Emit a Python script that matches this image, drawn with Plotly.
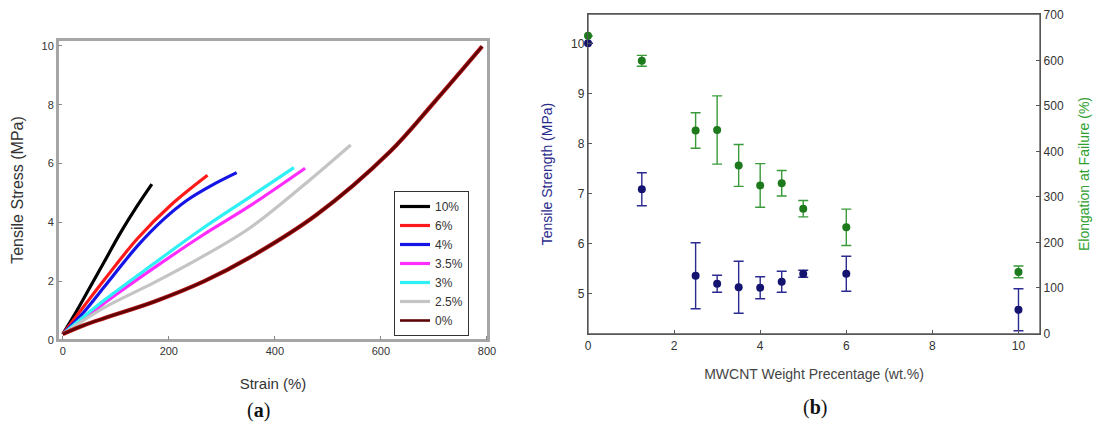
import plotly.graph_objects as go

W, H = 1101, 428

# ---------- panel (a): stress-strain curves ----------
labels = ["10%", "6%", "4%", "3.5%", "3%", "2.5%", "0%"]
colors = ["#000000", "#ff1a1a", "#1414e6", "#ff2dff", "#2ef0f5", "#c4c4c4", "#5e0404"]

strain_10 = [0, 25, 50, 78, 109, 140, 168]
stress_10 = [0.2, 0.95, 1.75, 2.65, 3.65, 4.55, 5.3]
strain_6 = [0, 40, 78, 141, 204, 273]
stress_6 = [0.2, 1.15, 2.04, 3.45, 4.59, 5.6]
strain_4 = [0, 40, 78, 141, 190, 235, 280, 328]
stress_4 = [0.2, 0.95, 1.8, 3.2, 4.1, 4.76, 5.25, 5.69]
strain_35 = [0, 40, 78, 172, 260, 352, 457]
stress_35 = [0.2, 0.72, 1.25, 2.45, 3.52, 4.55, 5.84]
strain_3 = [0, 40, 78, 172, 260, 352, 436]
stress_3 = [0.2, 0.8, 1.35, 2.6, 3.75, 4.85, 5.86]
strain_25 = [0, 78, 172, 260, 352, 450, 543]
stress_25 = [0.2, 1.1, 1.95, 2.8, 3.8, 5.2, 6.63]
strain_0 = [0, 40, 78, 172, 267, 352, 478, 617, 699, 791]
stress_0 = [0.2, 0.5, 0.74, 1.3, 2.0, 2.8, 4.25, 6.4, 8.05, 9.98]

curves = [(strain_10, stress_10), (strain_6, stress_6), (strain_4, stress_4),
          (strain_35, stress_35), (strain_3, stress_3), (strain_25, stress_25),
          (strain_0, stress_0)]

# ---------- panel (b): MWCNT content ----------
wt = [0, 1.25, 2.5, 3, 3.5, 4, 4.5, 5, 6, 10]
tensile_strength = [10.0, 7.08, 5.35, 5.19, 5.12, 5.11, 5.23, 5.39, 5.39, 4.67]
tensile_err = [None, 0.33, 0.66, 0.17, 0.52, 0.22, 0.21, 0.07, 0.35, 0.42]
elongation = [654, 599, 446, 447, 369, 325, 330, 274, 233, 135]
elongation_err = [None, 12, 39, 75, 46, 48, 28, 18, 40, 13]

fig = go.Figure()

for (sx, sy), lab, col in zip(curves, labels, colors):
    if lab == "0%":
        # reddish halo seen around the dark 0% curve
        fig.add_trace(go.Scatter(x=sx, y=sy, mode="lines", showlegend=False, hoverinfo="skip",
                                 line=dict(color="#b81818", width=4.2, shape="spline", smoothing=1.0),
                                 xaxis="x", yaxis="y"))
        w = 2.6
    else:
        w = 3.2
    fig.add_trace(go.Scatter(x=sx, y=sy, mode="lines", name=lab,
                             line=dict(color=col, width=w, shape="spline", smoothing=1.0),
                             xaxis="x", yaxis="y", showlegend=True))

fig.add_trace(go.Scatter(x=wt, y=tensile_strength, mode="markers", showlegend=False,
                         marker=dict(color="#141470", size=8),
                         error_y=dict(type="data", array=tensile_err, color="#2a2a90",
                                      thickness=1.4, width=5),
                         xaxis="x2", yaxis="y2", cliponaxis=False))
fig.add_trace(go.Scatter(x=wt, y=elongation, mode="markers", showlegend=False,
                         marker=dict(color="#1c7a1c", size=8),
                         error_y=dict(type="data", array=elongation_err, color="#3a9a3a",
                                      thickness=1.4, width=5),
                         xaxis="x2", yaxis="y3", cliponaxis=False))

font_family = "Liberation Sans, Arial, sans-serif"
tick_font = dict(family=font_family, size=11, color="#333333")
tick_font_b = dict(family=font_family, size=12, color="#333333")

def px_x(a, b):
    return [a / W, b / W]

def px_y(top, bottom):
    return [1 - bottom / H, 1 - top / H]

fig.update_layout(
    template="none",
    width=W, height=H,
    margin=dict(l=0, r=0, t=0, b=0, autoexpand=False),
    paper_bgcolor="white", plot_bgcolor="white",
    font=dict(family=font_family, color="#333333"),
    showlegend=True,
    legend=dict(x=394 / W, y=1 - 191 / H, xanchor="left", yanchor="top",
                bordercolor="#333333", borderwidth=1, bgcolor="white",
                font=dict(family=font_family, size=12, color="#333333"),
                itemwidth=30, tracegroupgap=0),
    xaxis=dict(domain=px_x(58, 488), range=[-9, 802], tickvals=[0, 200, 400, 600, 800],
               automargin=False,
               showgrid=False, zeroline=False, showline=True, mirror=True,
               linecolor="#a6a6a6", linewidth=2, ticks="inside", ticklen=4,
               tickcolor="#888888", tickfont=tick_font,
               title=dict(text="Strain (%)", font=dict(size=15, color="#333333"), standoff=22)),
    yaxis=dict(domain=px_y(40, 340), range=[0, 10.2], tickvals=[0, 2, 4, 6, 8, 10],
               automargin=False,
               showgrid=False, zeroline=False, showline=True, mirror=True,
               linecolor="#a6a6a6", linewidth=2, ticks="inside", ticklen=4,
               tickcolor="#888888", tickfont=tick_font,
               title=dict(text="Tensile Stress (MPa)", font=dict(size=16, color="#333333"), standoff=14)),
    xaxis2=dict(domain=px_x(588, 1040), range=[0, 10.5], tickvals=[0, 2, 4, 6, 8, 10],
                automargin=False,
                showgrid=False, zeroline=False, showline=True, mirror=True,
                linecolor="#555555", linewidth=1.3, ticks="inside", ticklen=4,
                tickcolor="#555555", tickfont=tick_font_b,
                anchor="y2",
                title=dict(text="MWCNT Weight Precentage (wt.%)", font=dict(size=14, color="#444444"), standoff=17)),
    yaxis2=dict(domain=px_y(14, 334), range=[4.186, 10.586], tickvals=[5, 6, 7, 8, 9, 10],
                automargin=False,
                showgrid=False, zeroline=False, showline=True, mirror=False,
                linecolor="#555555", linewidth=1.3, ticks="inside", ticklen=4,
                tickcolor="#555555", tickfont=tick_font_b,
                anchor="x2",
                title=dict(text="Tensile Strength (MPa)", font=dict(size=14, color="#2b2b8c"), standoff=15)),
    yaxis3=dict(range=[-1.5, 702], tickvals=[0, 100, 200, 300, 400, 500, 600, 700],
                automargin=False,
                overlaying="y2", side="right", anchor="x2",
                showgrid=False, zeroline=False, showline=True,
                linecolor="#555555", linewidth=1.3, ticks="inside", ticklen=4,
                tickcolor="#555555", tickfont=tick_font_b,
                title=dict(text="Elongation at Failure (%)", font=dict(size=14, color="#2fa02f"), standoff=16)),
    annotations=[
        dict(text="(<b>a</b>)", x=258 / W, y=1 - 410 / H, xref="paper", yref="paper",
             xanchor="center", yanchor="middle",
             showarrow=False, font=dict(family="Liberation Serif, Times New Roman, serif", size=20, color="#111111")),
        dict(text="(<b>b</b>)", x=815 / W, y=1 - 407 / H, xref="paper", yref="paper",
             xanchor="center", yanchor="middle",
             showarrow=False, font=dict(family="Liberation Serif, Times New Roman, serif", size=20, color="#111111")),
    ],
    shapes=[
        # panel frames
        dict(type="rect", xref="x domain", yref="y domain", x0=0, x1=1, y0=0, y1=1,
             line=dict(color="#a6a6a6", width=2), layer="below"),
        dict(type="rect", xref="x2 domain", yref="y2 domain", x0=0, x1=1, y0=0, y1=1,
             line=dict(color="#555555", width=1.3), layer="below"),
    ],
)

# remove the default page margin so the figure sits at the window origin
fig.write_html("out.html", config={"displayModeBar": False},
               post_script="document.body.style.margin='0';")
